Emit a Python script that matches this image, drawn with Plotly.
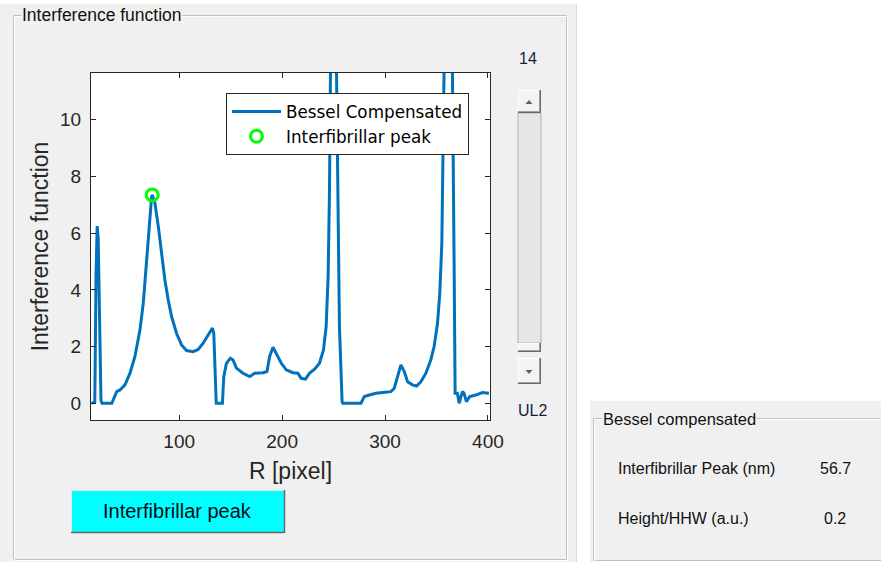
import plotly.graph_objects as go

# ---------------- data ----------------
r_pixel = [15, 18, 19.2, 20.3, 21.3, 22.5, 24, 25, 34.5, 39.3, 42.5, 47.3, 52.2, 57.0, 61.9,
           65.1, 68.3, 70.9, 73.2, 73.8, 76.4, 79.7, 82.9, 86.1, 89.3, 92.6, 97.4, 102.3,
           107.1, 113.6, 118.4, 123.3, 128.1, 132.3, 133.6, 135.5, 136, 142.0, 143.3, 145.9,
           149.7, 152.3, 155.6, 162, 168.5, 173.3, 181.4, 185.3, 187.9, 191.1, 194.3, 199.2,
           204, 210.5, 215.3, 218.5, 222.7, 226.6, 231.5, 236.3, 240.2, 242.8, 244.7, 246,
           247, 248.5, 250, 251.5, 253.1, 254.1, 255.7, 258.3, 259, 276.7, 279.9, 284.8,
           291.2, 297.7, 305.7, 309, 312.2, 315.4, 318.7, 321.9, 326.7, 330.6, 334.8, 339.7,
           344.5, 347.7, 351, 353.2, 355.2, 356.8, 358.5, 361, 363.5, 365.5, 367.1, 368.1,
           370.3, 372, 375.2, 376.8, 379.1, 382.3, 388.1, 394.6, 401]
bessel_compensated = [0, 0.05, 4.5, 6.25, 5.8, 2.5, 0.1, 0, 0, 0.41, 0.47, 0.65, 1.06, 1.65, 2.59,
                      3.53, 5.06, 6.47, 7.29, 7.35, 7.06, 6.24, 5.29, 4.35, 3.65, 3.06, 2.47, 2.06,
                      1.86, 1.82, 1.9, 2.12, 2.41, 2.65, 2.47, 0.06, 0, 0, 0.94, 1.41,
                      1.59, 1.53, 1.24, 1.06, 0.94, 1.06, 1.08, 1.12, 1.65, 1.98, 1.76, 1.41,
                      1.18, 1.08, 1.06, 0.88, 0.85, 1.06, 1.2, 1.41, 1.88, 2.71, 4.47, 7.4,
                      11.65, 16, 22, 16, 11.65, 7.4, 2.7, 0.06, 0, 0, 0.24, 0.29,
                      0.35, 0.38, 0.41, 0.53, 0.94, 1.35, 1.12, 0.76, 0.65, 0.61, 0.76, 1.06,
                      1.53, 2.0, 2.82, 3.88, 5.65, 11.65, 16, 22, 16, 11.65, 5.06, 0.35,
                      0.35, 0, 0.41, 0.35, 0.06, 0.24, 0.29, 0.38, 0.35]
peak_x = [73.8]
peak_y = [7.35]
x_ticks = [100, 200, 300, 400]
y_ticks = [0, 2, 4, 6, 8, 10]
slider_value = "14"
slider_label = "UL2"
peak_nm = "56.7"
height_hhw = "0.2"

# ---------------- geometry helpers (pixels -> paper) ----------------
L, T, R, B = 91, 73, 490, 420
W, H = R - L, B - T


def px(x):
    return (x - L) / W


def py(y):
    return (B - y) / H


FONT = "Liberation Sans, Arial, sans-serif"
AX = "#262626"
BG = "#F0F0F0"

fig = go.Figure()
fig.add_trace(go.Scatter(x=r_pixel, y=bessel_compensated, mode="lines",
                         name="Bessel Compensated",
                         line=dict(color="#0072BD", width=3)))
fig.add_trace(go.Scatter(x=peak_x, y=peak_y, mode="markers", name="Interfibrillar peak",
                         marker=dict(symbol="circle-open", size=12, color="#00FF00",
                                     line=dict(width=3, color="#00FF00"))))

shapes = []


def rect(x0, y0, x1, y1, fill=None, line=None, lw=1):
    d = dict(type="rect", xref="paper", yref="paper", layer="below",
             x0=px(x0), x1=px(x1), y0=py(y1), y1=py(y0))
    d["fillcolor"] = fill if fill else "rgba(0,0,0,0)"
    d["line"] = dict(color=line, width=lw) if line else dict(width=0)
    shapes.append(d)


def hline(x0, x1, y, color, lw=1):
    shapes.append(dict(type="line", xref="paper", yref="paper", layer="below",
                       x0=px(x0), x1=px(x1), y0=py(y), y1=py(y),
                       line=dict(color=color, width=lw)))


def vline(x, y0, y1, color, lw=1):
    shapes.append(dict(type="line", xref="paper", yref="paper", layer="below",
                       x0=px(x), x1=px(x), y0=py(y0), y1=py(y1),
                       line=dict(color=color, width=lw)))


# white areas outside windows
rect(0, 0, 881, 4, fill="white")
rect(577, 0, 881, 401, fill="white")
rect(577, 401, 590, 562, fill="white")
vline(576.5, 4, 562, "#D8D8D8")

# panel 1 (etched)
rect(13.5, 15.5, 566.5, 559.5, line="#C0C0C0")
rect(14.5, 16.5, 567.5, 560.5, line="#FFFFFF")
# panel 2
rect(593.5, 418.5, 890, 560.5, line="#C0C0C0")
rect(594.5, 419.5, 891, 561.5, line="#FFFFFF")

# slider
rect(518, 113, 541, 343, fill="#E6E6E6", line="#B0B0B0")
for (a, b) in [(90, 113), (343, 352), (358, 384)]:
    rect(518, a, 541, b, fill="#F3F3F3")
    hline(518, 541, a + 0.5, "#FFFFFF")
    vline(518.5, a, b, "#FFFFFF")
    hline(518, 541, b - 0.5, "#696969")
    vline(540.5, a, b, "#696969")
    hline(518, 540, b - 1.5, "#A0A0A0")
    vline(539.5, a, b - 1, "#A0A0A0")
shapes.append(dict(type="path", xref="paper", yref="paper", layer="below",
                   path=f"M {px(525.5)} {py(104)} L {px(532.5)} {py(104)} L {px(529)} {py(100)} Z",
                   fillcolor="#606060", line=dict(width=0)))
shapes.append(dict(type="path", xref="paper", yref="paper", layer="below",
                   path=f"M {px(525.5)} {py(370)} L {px(532.5)} {py(370)} L {px(529)} {py(374)} Z",
                   fillcolor="#606060", line=dict(width=0)))

# button
rect(71, 490, 284, 532, fill="#00FFFF")
hline(71, 284, 490.5, "#E3E3E3")
vline(71.5, 490, 532, "#E3E3E3")
hline(71, 284, 532.5, "#696969", 1.5)
vline(284.5, 490, 533, "#696969", 1.5)

annotations = []


def text(x, y, s, size, xanchor="left", color="#101010", bg=None):
    d = dict(xref="paper", yref="paper", x=px(x), y=py(y), text=s, showarrow=False,
             xanchor=xanchor, yanchor="middle", font=dict(family=FONT, size=size, color=color))
    if bg:
        d["bgcolor"] = bg
        d["borderpad"] = 0
    annotations.append(d)


text(21, 15, "Interference function", 17.5, bg=BG)
text(602, 419, "Bessel compensated", 16.5, bg=BG)
text(528, 59, slider_value, 16, xanchor="center", color="#1c1c40")
text(532, 410, slider_label, 16, xanchor="center", color="#1c1c40")
text(177.5, 511, "Interfibrillar peak", 20, xanchor="center", color="#0a0a1a")
text(616, 468, "Interfibrillar Peak (nm)", 16)
text(616, 518, "Height/HHW (a.u.)", 16)
text(835, 468, peak_nm, 16, xanchor="center")
text(835, 518, height_hhw, 16, xanchor="center")

fig.update_layout(
    width=881, height=562,
    margin=dict(l=L, r=881 - R, t=T, b=562 - B, pad=0),
    paper_bgcolor=BG, plot_bgcolor="white",
    font=dict(family=FONT, color=AX),
    shapes=shapes, annotations=annotations,
    showlegend=True,
    legend=dict(x=px(226), y=py(93), xanchor="left", yanchor="top",
                bgcolor="white", bordercolor=AX, borderwidth=1,
                font=dict(family="DejaVu Sans, sans-serif", size=16.8, color="#000000"),
                itemwidth=49, tracegroupgap=0),
    xaxis=dict(range=[14.3, 402], tickvals=x_ticks, ticks="inside", ticklen=5,
               tickcolor=AX, showline=True, linecolor=AX, linewidth=1, mirror="ticks",
               showgrid=False, zeroline=False, tickfont=dict(size=19, color=AX),
               ticklabelstandoff=4,
               title=dict(text="R [pixel]", font=dict(size=23, color=AX), standoff=12)),
    yaxis=dict(range=[-0.59, 11.65], tickvals=y_ticks, ticks="inside", ticklen=5,
               tickcolor=AX, showline=True, linecolor=AX, linewidth=1, mirror="ticks",
               showgrid=False, zeroline=False, tickfont=dict(size=19, color=AX),
               ticklabelstandoff=5,
               title=dict(text="Interference function", font=dict(size=23, color=AX), standoff=5)),
)

fig.write_html("out.html", config={"displayModeBar": False},
               post_script="document.body.style.margin='0';")
